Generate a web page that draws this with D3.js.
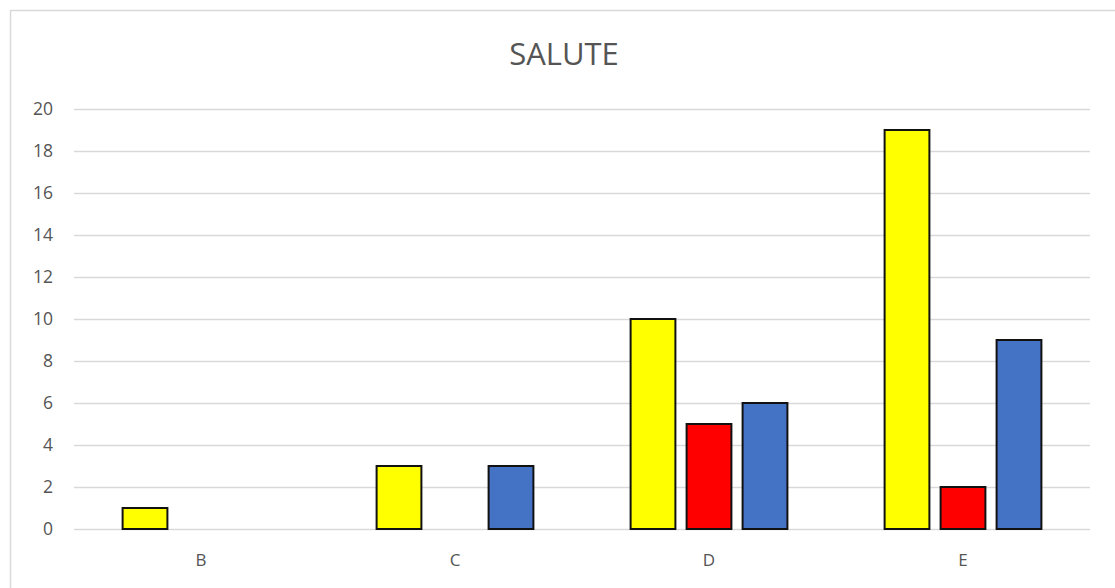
<!DOCTYPE html>
<html><head><meta charset="utf-8">
<script src="https://cdn.jsdelivr.net/npm/d3@7"></script>
<style>body{margin:0;background:#fff;}svg{display:block;}</style>
</head><body>
<svg id="chart" width="1115" height="588"></svg>
<script>
const categories = ["B", "C", "D", "E"];
const seriesNames = ["Serie 1", "Serie 2", "Serie 3"];
const yellowValues = [1, 3, 10, 19];
const redValues = [0, 0, 5, 2];
const blueValues = [0, 3, 6, 9];
const yTicks = [0, 2, 4, 6, 8, 10, 12, 14, 16, 18, 20];
const colors = ["#FFFF00", "#FF0000", "#4472C4"];
const title = "SALUTE";

const seriesValues = [yellowValues, redValues, blueValues];
const svg = d3.select("#chart");
const font = "'Open Sans', 'Noto Sans', sans-serif";

svg.append("rect").attr("x", 10.5).attr("y", 10.5).attr("width", 1120).attr("height", 600)
  .attr("fill", "#fff").attr("stroke", "#d9d9d9").attr("stroke-width", 1.5);

const plotLeft = 74, plotRight = 1090, plotTop = 109, plotBottom = 529;
const x = d3.scaleBand().domain(categories).range([plotLeft, plotRight]).paddingInner(0).paddingOuter(0);
const x1 = d3.scaleBand().domain(d3.range(seriesNames.length)).range([0, x.bandwidth()])
  .paddingInner(0.2).paddingOuter(0.868);
const y = d3.scaleLinear().domain([0, 20]).range([plotBottom, plotTop]);

svg.append("g").selectAll("line").data(yTicks).join("line")
  .attr("x1", plotLeft).attr("x2", plotRight)
  .attr("y1", d => Math.round(y(d)) + 0.5).attr("y2", d => Math.round(y(d)) + 0.5)
  .attr("stroke", "#d9d9d9").attr("stroke-width", 1.5);

const yAxis = d3.axisLeft(y).tickValues(yTicks).tickSize(0).tickPadding(0);
const ga = svg.append("g").attr("transform", `translate(53,0)`).call(yAxis);
ga.select(".domain").remove();
ga.selectAll("text").attr("font-family", font).attr("font-size", 17.5).attr("fill", "#555");

const xAxis = d3.axisBottom(x).tickSize(0).tickPadding(0);
const gx = svg.append("g").attr("transform", `translate(0,${plotBottom + 25})`).call(xAxis);
gx.select(".domain").remove();
gx.selectAll("text").attr("font-family", font).attr("font-size", 17).attr("fill", "#555");

const groups = svg.append("g").selectAll("g").data(categories).join("g")
  .attr("transform", d => `translate(${x(d)},0)`);
groups.selectAll("rect").data((c, ci) => seriesValues.map((s, si) => ({si, v: s[ci]})).filter(d => d.v > 0))
  .join("rect")
  .attr("x", d => x1(d.si)).attr("width", x1.bandwidth())
  .attr("y", d => y(d.v)).attr("height", d => y(0) - y(d.v))
  .attr("fill", d => colors[d.si]).attr("stroke", "#111").attr("stroke-width", 2);

svg.append("text").attr("x", 564).attr("y", 65).attr("text-anchor", "middle")
  .attr("font-family", font).attr("font-size", 31).attr("fill", "#555").text(title);
</script>
</body></html>
